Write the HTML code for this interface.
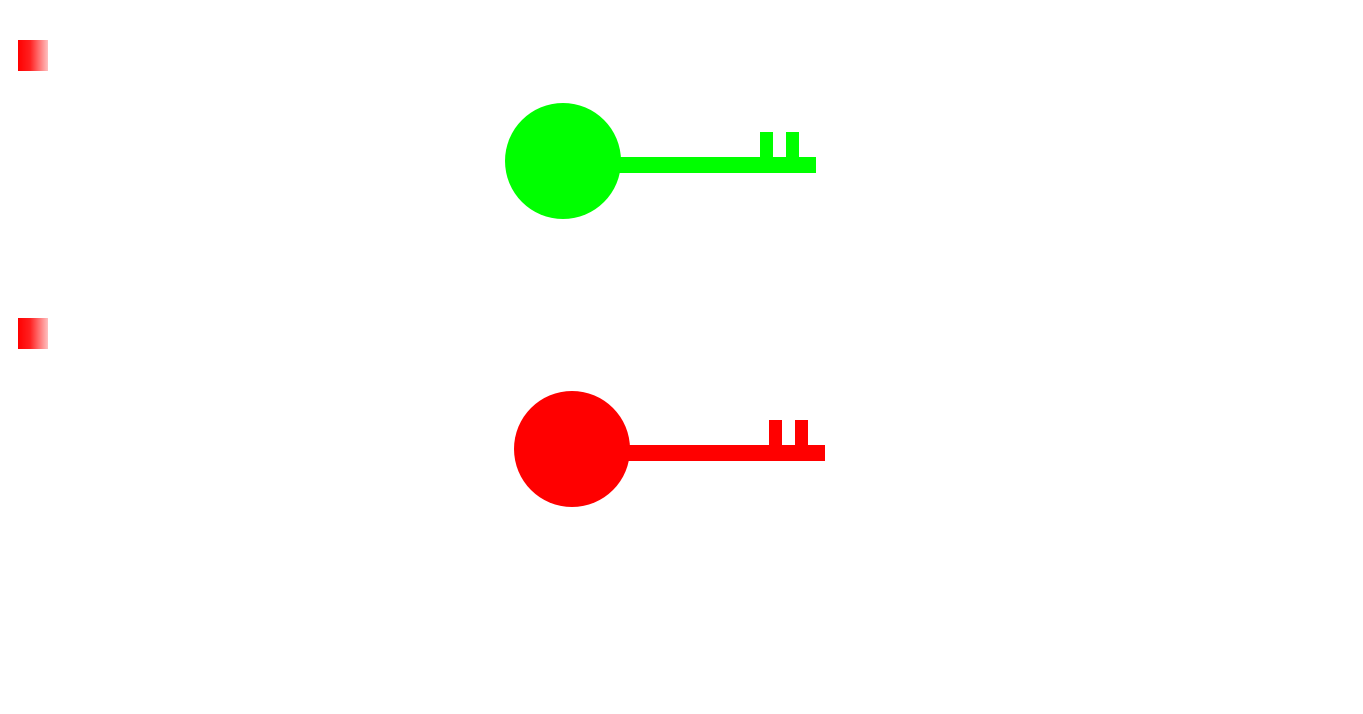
<!DOCTYPE html>
<html><head><style>
html,body{margin:0;padding:0;background:#fff;width:1363px;height:714px;overflow:hidden}
.sq{position:absolute;left:18px;width:30px;height:31px;background:linear-gradient(to right,#ff0000 0%,#ff2020 40%,#ffc0c0 100%)}
</style></head><body>
<div class="sq" style="top:40px"></div>
<div class="sq" style="top:318px"></div>
<svg width="1363" height="714" style="position:absolute;left:0;top:0">
<g fill="#00ff00">
<circle cx="563" cy="161" r="58"/>
<rect x="610" y="157" width="206" height="16"/>
<rect x="760" y="132" width="13" height="26"/>
<rect x="786" y="132" width="13" height="26"/>
</g>
<g fill="#ff0000">
<circle cx="572" cy="449" r="58"/>
<rect x="619" y="445" width="206" height="16"/>
<rect x="769" y="420" width="13" height="26"/>
<rect x="795" y="420" width="13" height="26"/>
</g>
</svg>
</body></html>
